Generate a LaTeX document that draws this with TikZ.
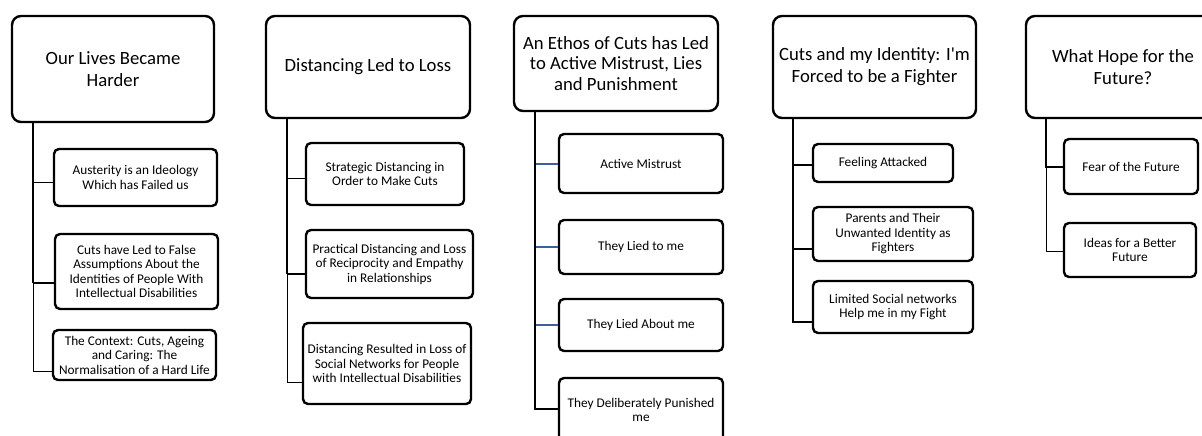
\documentclass[tikz,border=0pt]{standalone}
\usepackage{fontspec}
\setmainfont{Carlito}[Ligatures=TeXOff]
\definecolor{linkblue}{RGB}{61,95,160}
\begin{document}
\begin{tikzpicture}[x=1pt,y=-1pt,
  headbox/.style={draw=black,line width=2.4pt,rounded corners=9pt,align=center,inner sep=0pt,
    font=\fontsize{18.7}{22}\selectfont},
  kidbox/.style={draw=black,line width=2.4pt,rounded corners=5pt,align=center,inner sep=0pt,
    font=\fontsize{13.3}{14.5}\selectfont},
  smallkid/.style={kidbox},
  thickln/.style={line width=2pt,draw=black},
  thinln/.style={line width=1pt,draw=black},
  blueln/.style={line width=2.4pt,draw=linkblue}]
\useasboundingbox (0,0) rectangle (1202,436);
\fill[white] (0,0) rectangle (1202,436);

% ---------- Column 1
\node[headbox,minimum width=202pt,minimum height=106pt] (H1) at (113,69) {Our Lives Became\\Harder};
\node[kidbox,minimum width=163pt,minimum height=57pt] (C11) at (135.5,177.5) {Austerity is an Ideology\\Which has Failed us};
\node[kidbox,minimum width=163pt,minimum height=75pt] (C12) at (136.5,271.5) {Cuts have Led to False\\Assumptions About the\\Identities of People With\\Intellectual Disabilities};
\node[kidbox,minimum width=163pt,minimum height=50pt] (C13) at (134.5,355) {The Context: Cuts, Ageing\\and Caring: The\\Normalisation of a Hard Life};
\coordinate (j11) at (33,182);
\coordinate (j12) at (33,283);
\coordinate (j13) at (33,371);
\draw[thickln] (H1.south -| j12) -- (j12);
\draw[thinln] (j12) -- (j13);
\draw[thinln] (j11) -- (j11 -| C11.west);
\draw[thickln] (j12) -- (j12 -| C12.west);
\draw[thinln] (j13) -- (j13 -| C13.west);

% ---------- Column 2
\node[headbox,minimum width=204pt,minimum height=102pt] (H2) at (368,67) {Distancing Led to Loss};
\node[kidbox,minimum width=158pt,minimum height=62pt] (C21) at (385,174) {Strategic Distancing in\\Order to Make Cuts};
\node[kidbox,minimum width=167pt,minimum height=68pt] (C22) at (389.5,264) {Practical Distancing and Loss\\of Reciprocity and Empathy\\in Relationships};
\node[kidbox,minimum width=168pt,minimum height=81pt] (C23) at (387,363.5) {Distancing Resulted in Loss of\\Social Networks for People\\with Intellectual Disabilities};
\coordinate (j21) at (287,178);
\coordinate (j22) at (287,274);
\coordinate (j23) at (287,382);
\draw[thickln] (H2.south -| j22) -- (j22);
\draw[thinln] (j22) -- (j23);
\draw[thinln] (j21) -- (j21 -| C21.west);
\draw[thickln] (j22) -- (j22 -| C22.west);
\draw[thinln] (j23) -- (j23 -| C23.west);

% ---------- Column 3
\node[headbox,minimum width=204pt,minimum height=95pt,font=\fontsize{18.7}{20.5}\selectfont] (H3) at (616,63.5) {An Ethos of Cuts has Led\\to Active Mistrust, Lies\\and Punishment};
\node[smallkid,minimum width=164pt,minimum height=59pt] (C31) at (641,163.5) {Active Mistrust};
\node[smallkid,minimum width=164pt,minimum height=54pt] (C32) at (641,247) {They Lied to me};
\node[smallkid,minimum width=164pt,minimum height=52pt] (C33) at (641,325) {They Lied About me};
\node[smallkid,minimum width=164pt,minimum height=64pt] (C34) at (641,410) {They Deliberately Punished\\me};
\coordinate (j31) at (535,164);
\coordinate (j32) at (535,247);
\coordinate (j33) at (535,325);
\coordinate (j34) at (535,409);
\draw[blueln] (j31) -- (j31 -| C31.west);
\draw[blueln] (j32) -- (j32 -| C32.west);
\draw[blueln] (j33) -- (j33 -| C33.west);
\draw[thickln] (H3.south -| j34) -- (j34) -- (j34 -| C34.west);

% ---------- Column 4
\node[headbox,minimum width=203pt,minimum height=102pt] (H4) at (874.5,67) {Cuts and my Identity: I'm\\Forced to be a Fighter};
\node[smallkid,minimum width=140pt,minimum height=38pt] (C41) at (883,163) {Feeling Attacked};
\node[smallkid,minimum width=160pt,minimum height=54pt] (C42) at (893,234) {Parents and Their\\Unwanted Identity as\\Fighters};
\node[smallkid,minimum width=160pt,minimum height=52pt] (C43) at (893,307) {Limited Social networks\\Help me in my Fight};
\coordinate (j41) at (793,165);
\coordinate (j42) at (793,249);
\coordinate (j43) at (793,322);
\draw[thickln] (j41) -- (j41 -| C41.west);
\draw[thickln] (j42) -- (j42 -| C42.west);
\draw[thickln] (H4.south -| j43) -- (j43) -- (j43 -| C43.west);

% ---------- Column 5
\node[headbox,minimum width=194pt,minimum height=102pt] (H5) at (1123,67) {What Hope for the\\Future?};
\node[smallkid,minimum width=134pt,minimum height=55pt] (C51) at (1131,166.5) {Fear of the Future};
\node[smallkid,minimum width=132pt,minimum height=54pt] (C52) at (1130,250) {Ideas for a Better\\Future};
\coordinate (j51) at (1046,167);
\coordinate (j52) at (1046,251);
\draw[thickln] (H5.south -| j51) -- (j51) -- (j51 -| C51.west);
\draw[thinln] (j51) -- (j52) -- (j52 -| C52.west);
\end{tikzpicture}
\end{document}
